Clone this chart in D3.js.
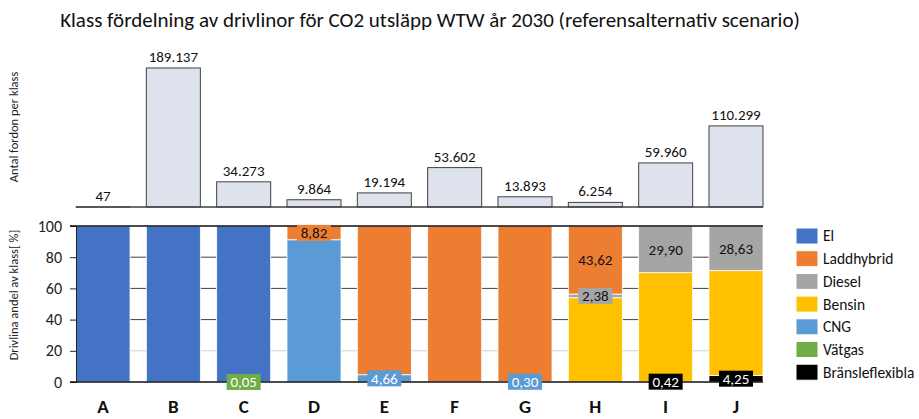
<!DOCTYPE html>
<html>
<head>
<meta charset="UTF-8">
<script src="https://cdn.jsdelivr.net/npm/d3@7"></script>
<style>
  body { margin: 0; background: #fff; }
  text { font-family: Carlito, Calibri, Lato, sans-serif; }
</style>
</head>
<body>
<svg id="chart" width="919" height="419"></svg>
<script>

// klasser och antal fordon
let classes = ["A", "B", "C", "D", "E", "F", "G", "H", "I", "J"];
let counts  = [47, 189137, 34273, 9864, 19194, 53602, 13893, 6254, 59960, 110299];

// drivlinor (legendordning), stapelordning nerifrån och upp är omvänd
let trains = ["El", "Laddhybrid", "Diesel", "Bensin", "CNG", "Vätgas", "Bränsleflexibla"];
let colors = ["#4472c4", "#ed7d31", "#a5a5a5", "#ffc000", "#5b9bd5", "#70ad47", "#000000"];

// andel per klass [%], en rad per drivlina, i klassordning
let el         = [100, 100, 99.95, 0, 0, 0, 0, 0, 0, 0];
let laddhybrid = [0, 0, 0, 8.82, 95.34, 100, 99.70, 43.62, 0, 0];
let diesel     = [0, 0, 0, 0, 0, 0, 0, 2.38, 29.90, 28.63];
let bensin     = [0, 0, 0, 0, 0, 0, 0, 54.00, 69.68, 67.12];
let cng        = [0, 0, 0, 91.18, 4.66, 0, 0.30, 0, 0, 0];
let vatgas     = [0, 0, 0.05, 0, 0, 0, 0, 0, 0, 0];
let flex       = [0, 0, 0, 0, 0, 0, 0, 0, 0.42, 4.25];

// vilka segment som har etikett: [klass, drivlina]
let labelled = [["C", "Vätgas"], ["D", "Laddhybrid"], ["E", "CNG"], ["G", "CNG"],
                ["H", "Laddhybrid"], ["H", "Diesel"], ["I", "Diesel"], ["I", "Bränsleflexibla"],
                ["J", "Diesel"], ["J", "Bränsleflexibla"]];

let yTicks = [0, 20, 40, 60, 80, 100];

let series = [el, laddhybrid, diesel, bensin, cng, vatgas, flex];
let rows = classes.map((c, i) => {
    let r = { klass: c };
    trains.forEach((t, k) => r[t] = series[k][i]);
    return r;
});

let svg = d3.select("#chart");
let color = d3.scaleOrdinal(trains, colors);

let x = d3.scaleBand(classes, [76, 763]).paddingInner(0.232).paddingOuter(0);

//===================== övre panel: antal fordon =====================//
let yTop = d3.scaleLinear([0, 200000], [207, 60]);
let fmtCount = d3.formatLocale({ decimal: ",", thousands: ".", grouping: [3], currency: ["", ""] }).format(",d");

svg.append("g").selectAll("rect")
    .data(classes)
    .join("rect")
    .attr("x", d => x(d))
    .attr("width", x.bandwidth())
    .attr("y", (d, i) => yTop(counts[i]))
    .attr("height", (d, i) => yTop(0) - yTop(counts[i]))
    .attr("fill", "#dde2ed")
    .attr("stroke", "#404040")
    .attr("stroke-width", 1);

svg.append("line")
    .attr("x1", 76).attr("x2", 763)
    .attr("y1", yTop(0)).attr("y2", yTop(0))
    .attr("stroke", "#404040").attr("stroke-width", 1.5);

svg.append("g").selectAll("text")
    .data(classes)
    .join("text")
    .attr("x", d => x(d) + x.bandwidth() / 2)
    .attr("y", (d, i) => yTop(counts[i]) - 6)
    .attr("text-anchor", "middle")
    .attr("font-size", 15)
    .attr("fill", "#111")
    .text((d, i) => fmtCount(counts[i]));

svg.append("text")
    .attr("transform", "translate(18,127) rotate(-90)")
    .attr("text-anchor", "middle")
    .attr("font-size", 12.5)
    .attr("fill", "#222")
    .text("Antal fordon per klass");

//===================== nedre panel: andel per drivlina =====================//
let yBot = d3.scaleLinear([0, 100], [382, 226]);

// stödlinjer
svg.append("g").selectAll("line")
    .data(yTicks.filter(t => t > 0 && t < 100))
    .join("line")
    .attr("x1", 76).attr("x2", 763)
    .attr("y1", d => yBot(d)).attr("y2", d => yBot(d))
    .attr("stroke", d => d === 20 ? "#d0d0d0" : "#404040")
    .attr("stroke-width", 1);

let stack = d3.stack().keys(trains.slice().reverse());
let layers = stack(rows);

svg.append("g").selectAll("g")
    .data(layers)
    .join("g")
    .attr("fill", d => color(d.key))
    .selectAll("rect")
    .data(d => d.filter(s => s[1] - s[0] > 0))
    .join("rect")
    .attr("x", d => x(d.data.klass))
    .attr("width", x.bandwidth())
    .attr("y", d => yBot(d[1]))
    .attr("height", d => yBot(d[0]) - yBot(d[1]))
    .attr("stroke", "#fff")
    .attr("stroke-width", 0.8);

// axlar
let axisY = svg.append("g")
    .attr("transform", "translate(76,0)")
    .call(d3.axisLeft(yBot).tickValues(yTicks).tickSize(6).tickPadding(8));
axisY.select(".domain").attr("stroke", "#222");
axisY.selectAll(".tick line").attr("stroke", "#222");
axisY.selectAll("text").attr("font-size", 16).attr("fill", "#222")
    .style("font-family", "Carlito, Calibri, Lato, sans-serif");

svg.append("line")
    .attr("x1", 70).attr("x2", 763)
    .attr("y1", yBot(100)).attr("y2", yBot(100))
    .attr("stroke", "#111").attr("stroke-width", 1.5);
svg.append("line")
    .attr("x1", 70).attr("x2", 763)
    .attr("y1", yBot(0)).attr("y2", yBot(0))
    .attr("stroke", "#111").attr("stroke-width", 1.5);

// segmentetiketter
let fmtPct = d3.formatLocale({ decimal: ",", thousands: ".", grouping: [3], currency: ["", ""] }).format(".2f");
let labelData = labelled.map(([k, t]) => {
    let layer = layers.find(l => l.key === t);
    let seg = layer[classes.indexOf(k)];
    return { klass: k, train: t, v: seg[1] - seg[0], mid: (seg[0] + seg[1]) / 2 };
});

let lab = svg.append("g").selectAll("g")
    .data(labelData)
    .join("g")
    .attr("transform", d => `translate(${x(d.klass) + x.bandwidth() / 2},${yBot(d.mid)})`);

lab.append("rect")
    .attr("x", -17).attr("y", -8)
    .attr("width", 34).attr("height", 16)
    .attr("fill", d => color(d.train));

lab.append("text")
    .attr("text-anchor", "middle")
    .attr("dy", "0.35em")
    .attr("font-size", 15)
    .attr("fill", d => ["Diesel", "Laddhybrid", "Bensin"].includes(d.train) ? "#111" : "#fff")
    .text(d => fmtPct(d.v));

svg.append("text")
    .attr("transform", "translate(18,295) rotate(-90)")
    .attr("text-anchor", "middle")
    .attr("font-size", 12.5)
    .attr("fill", "#222")
    .text("Drivlina andel av klass[ %]");

// klassnamn
svg.append("g").selectAll("text")
    .data(classes)
    .join("text")
    .attr("x", d => x(d) + x.bandwidth() / 2)
    .attr("y", 413)
    .attr("text-anchor", "middle")
    .attr("font-size", 19)
    .attr("font-weight", "bold")
    .attr("fill", "#111")
    .text(d => d);

// legend
let leg = svg.append("g").selectAll("g")
    .data(trains)
    .join("g")
    .attr("transform", (d, i) => `translate(796,${236 + i * 22.7})`);
leg.append("rect")
    .attr("x", 0).attr("y", -8)
    .attr("width", 22).attr("height", 16)
    .attr("fill", d => color(d))
    .attr("stroke", "#fff");
leg.append("text")
    .attr("x", 27).attr("dy", "0.35em")
    .attr("font-size", 15.5)
    .attr("fill", "#111")
    .text(d => d);

// titel
svg.append("text")
    .attr("x", 430).attr("y", 27)
    .attr("text-anchor", "middle")
    .attr("font-size", 21)
    .attr("fill", "#111")
    .text("Klass fördelning av drivlinor för CO2 utsläpp WTW år 2030 (referensalternativ scenario)");

</script>
</body>
</html>
